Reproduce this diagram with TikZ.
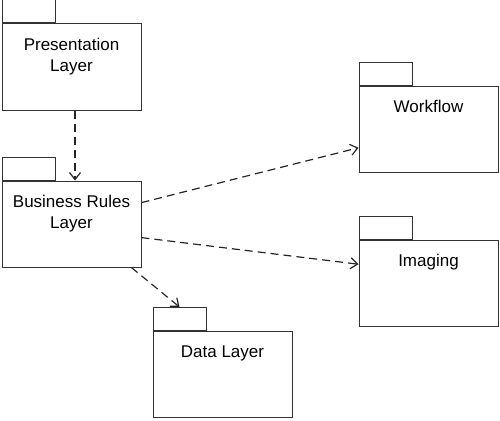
\documentclass[tikz,border=0pt]{standalone}
\usepackage{fontspec}
\setmainfont{Liberation Sans}
\usetikzlibrary{arrows.meta,positioning}
\tikzset{
  pkg/.style     = {rectangle, draw=black!80, line width=1pt, inner sep=0pt,
                    minimum width=139pt, minimum height=86pt},
  pkgtab/.style  = {rectangle, draw=black!80, line width=1pt, inner sep=0pt,
                    minimum width=53pt, minimum height=23pt, anchor=south west},
  pkgname/.style = {anchor=north, align=center, yshift=-11pt,
                    font=\fontsize{17}{21}\selectfont},
  dep/.style     = {-{Straight Barb[length=7pt,width=11pt]}, line width=1.2pt,
                    dash pattern=on 8pt off 5pt, draw=black!85}
}

\begin{document}
\begin{tikzpicture}[x=1pt, y=-1pt]
    \useasboundingbox (0,0) rectangle (500,420);

    % ---- Packages ----
    \node[pkg, label={[pkgname]north:Presentation\\Layer}] (pres) at (71.5,67) {};
    \node[pkgtab] (prestab) at (pres.north west) {};

    \node[pkg, label={[pkgname]north:Business Rules\\Layer}] (bus) at (71.5,224) {};
    \node[pkgtab] (bustab) at (bus.north west) {};

    \node[pkg, label={[pkgname]north:Workflow}] (wf) at (428.5,129) {};
    \node[pkgtab] (wftab) at (wf.north west) {};

    \node[pkg, label={[pkgname]north:Imaging}] (img) at (428.5,283) {};
    \node[pkgtab] (imgtab) at (img.north west) {};

    \node[pkg, label={[pkgname]north:Data Layer}] (data) at (222.5,374.5) {};
    \node[pkgtab] (datatab) at (data.north west) {};

    % ---- Dependencies ----
    \draw[dep] ([xshift=3.5pt]pres.south) -- ([xshift=3.5pt]bus.north);
    \draw[dep] (bus.17) -- (wf.195);
    \draw[dep] (bus.-11) -- (img.165);
    \draw[dep] (bus.-36) -- (datatab.north);
\end{tikzpicture}
\end{document}
